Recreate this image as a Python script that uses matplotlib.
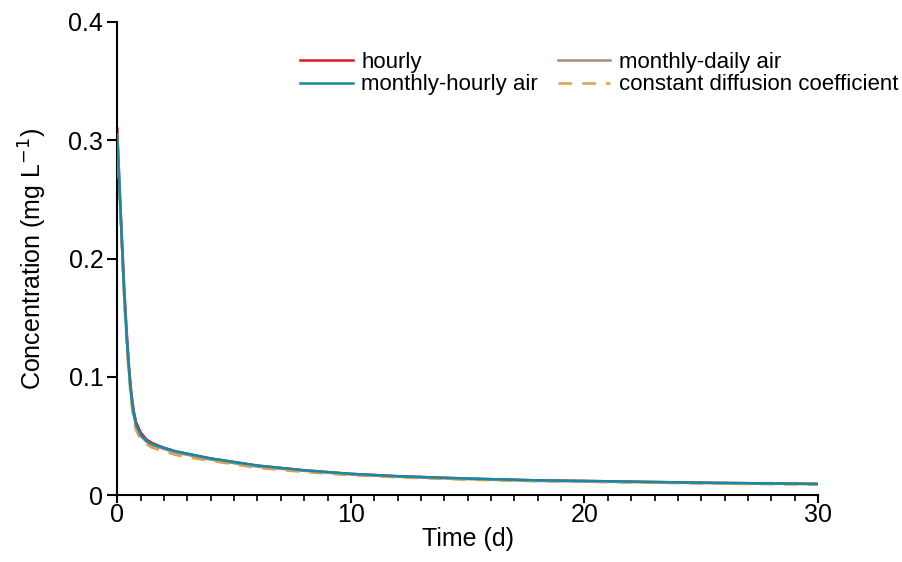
import numpy as np
import matplotlib
matplotlib.use("Agg")
import matplotlib.pyplot as plt
from matplotlib.ticker import MultipleLocator

plt.rcParams["font.family"] = ["Liberation Sans", "DejaVu Sans"]

# time (d)
time = [0, 0.05, 0.1, 0.2, 0.3, 0.4, 0.5, 0.6, 0.7, 0.8, 1.0, 1.25, 1.5, 2, 2.5,
        3, 4, 5, 6, 8, 10, 12, 15, 18, 20, 25, 30]

hourly = [0.310, 0.285, 0.262, 0.218, 0.175, 0.140, 0.110, 0.087, 0.072, 0.062,
          0.053, 0.047, 0.044, 0.040, 0.037, 0.035, 0.031, 0.028, 0.025, 0.021,
          0.018, 0.016, 0.014, 0.0125, 0.012, 0.0105, 0.0095]
monthly_hourly = [0.305, 0.280, 0.257, 0.213, 0.170, 0.135, 0.106, 0.084, 0.069, 0.060,
                  0.051, 0.046, 0.043, 0.040, 0.037, 0.035, 0.031, 0.028, 0.025, 0.021,
                  0.018, 0.016, 0.014, 0.0125, 0.012, 0.0105, 0.0095]
monthly_daily = [0.305, 0.279, 0.256, 0.212, 0.169, 0.134, 0.105, 0.083, 0.068, 0.059,
                 0.050, 0.045, 0.042, 0.039, 0.036, 0.034, 0.030, 0.027, 0.024, 0.0205,
                 0.0175, 0.0155, 0.0135, 0.012, 0.0115, 0.0102, 0.0092]
constant = [0.300, 0.274, 0.250, 0.205, 0.162, 0.128, 0.100, 0.078, 0.064, 0.055,
            0.047, 0.043, 0.040, 0.037, 0.034, 0.032, 0.029, 0.026, 0.023, 0.0195,
            0.0168, 0.015, 0.013, 0.0117, 0.0112, 0.0098, 0.0088]

fig = plt.figure(figsize=(9.02, 5.62), dpi=100)
ax = fig.add_axes([0.130, 0.119, 0.777, 0.842])

l1, = ax.plot(time, hourly, color="#e01a1a", lw=1.8, zorder=2, label="hourly")
l3, = ax.plot(time, monthly_daily, color="#a38f78", lw=1.8, zorder=3, label="monthly-daily air")
l4, = ax.plot(time, constant, color="#dca050", lw=1.8, ls=(0, (5.5, 4)), zorder=4,
              label="constant diffusion coefficient")
l2, = ax.plot(time, monthly_hourly, color="#138aa8", lw=1.8, zorder=5, label="monthly-hourly air")

ax.set_xlim(0, 30)
ax.set_ylim(0, 0.4)
ax.set_xticks([0, 10, 20, 30])
ax.xaxis.set_minor_locator(MultipleLocator(1))
ax.set_yticks([0, 0.1, 0.2, 0.3, 0.4])
ax.set_yticklabels(["0", "0.1", "0.2", "0.3", "0.4"])

for side in ["top", "right"]:
    ax.spines[side].set_visible(False)
for side in ["left", "bottom"]:
    ax.spines[side].set_linewidth(1.5)
ax.tick_params(which="major", length=7, width=1.5, labelsize=18, direction="out", pad=3)
ax.tick_params(axis="x", which="major", length=6, pad=0)
ax.tick_params(which="minor", length=4, width=1.2, direction="out")
ax.tick_params(axis="y", which="minor", left=False)

ax.set_xlabel("Time (d)", fontsize=18, labelpad=0)
ax.set_ylabel("Concentration (mg L$^{-1}$)", fontsize=18, labelpad=14)

ax.legend(handles=[l1, l2, l3, l4], ncol=2, frameon=False, fontsize=16,
          loc="upper left", bbox_to_anchor=(0.333, 0.907), bbox_transform=fig.transFigure,
          handlelength=2.35, handletextpad=0.4, columnspacing=0.9,
          labelspacing=0.05, borderaxespad=0, borderpad=0)

fig.savefig("out.png", dpi=100)
